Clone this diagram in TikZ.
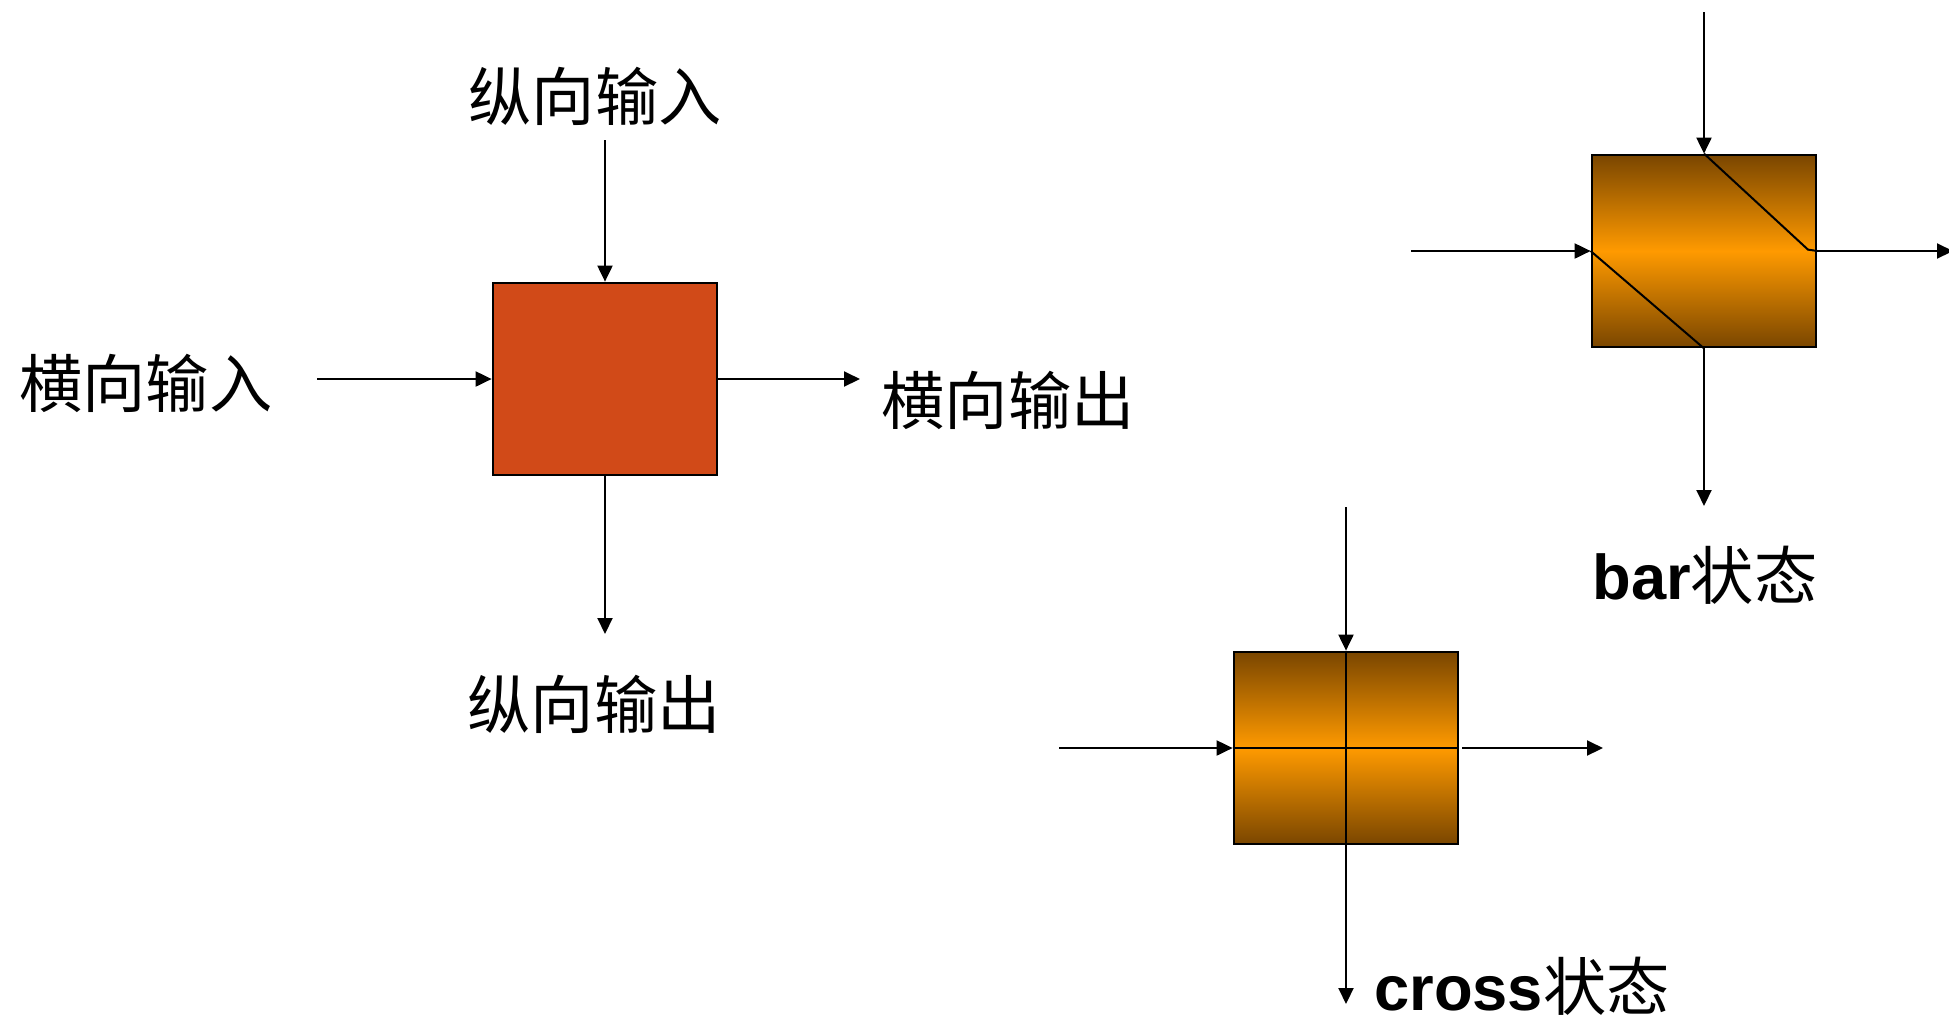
\documentclass[tikz,border=0pt]{standalone}
\usepackage{fontspec}
\setmainfont{Liberation Sans}
\newfontfamily\cjk{Noto Sans CJK SC}
\usetikzlibrary{arrows.meta}
\definecolor{SwitchRed}{HTML}{D14A18}
\definecolor{BarrelDark}{HTML}{7A4600}
\definecolor{BarrelOrange}{HTML}{FF9A00}

\begin{document}
\begin{tikzpicture}[x=0.2mm,y=-0.2mm,>={Triangle[length=3.2mm,width=3mm]},line width=0.4mm,
    unit/.style={draw=black,line width=0.55mm,minimum width=44.8mm,minimum height=38.4mm,inner sep=0pt},
    barrel/.style={unit,top color=BarrelDark,bottom color=BarrelDark,middle color=BarrelOrange},
    lbl/.style={font=\fontsize{36pt}{40pt}\selectfont,inner sep=0pt}]
  \useasboundingbox (0,0) rectangle (1949,1021);

  % generic switch unit
  \node[unit,fill=SwitchRed] (sw) at (605,379) {};
  \node[lbl] (vin)  at (595,96)  {\cjk 纵向输入};
  \node[lbl] (hin)  at (146,383) {\cjk 横向输入};
  \node[lbl] (hout) at (1008,400) {\cjk 横向输出};
  \node[lbl] (vout) at (594,704) {\cjk 纵向输出};
  \coordinate (swN) at (605,140);
  \coordinate (swW) at (317,379);
  \coordinate (swE) at (860,379);
  \coordinate (swS) at (605,634);
  \draw[->] (swN) -- (sw.north);
  \draw[->] (swW) -- (sw.west);
  \draw[->] (sw.east) -- (swE);
  \draw[->] (sw.south) -- (swS);

  % bar state
  \node[barrel] (bar) at (1704,251) {};
  \draw (bar.north) -- ++(104,96) -- (bar.east);
  \draw (bar.west) -- (bar.south);
  \coordinate (barN) at (1704,12);
  \coordinate (barW) at (1411,251);
  \coordinate (barE) at (1953,251);
  \coordinate (barS) at (1704,506);
  \draw[->] (barN) -- (bar.north);
  \draw[->] (barW) -- (bar.west);
  \draw[->] (bar.east) -- (barE);
  \draw[->] (bar.south) -- (barS);
  \node[lbl] (barlbl) at (1705,575) {\bfseries bar{\cjk\mdseries 状态}};

  % cross state
  \node[barrel] (cross) at (1346,748) {};
  \draw (cross.north) -- (cross.south);
  \draw (cross.west) -- (cross.east);
  \coordinate (crossN) at (1346,507);
  \coordinate (crossW) at (1059,748);
  \coordinate (crossE) at (1603,748);
  \coordinate (crossS) at (1346,1004);
  \draw[->] (crossN) -- (cross.north);
  \draw[->] (crossW) -- (cross.west);
  \draw[->] ([xshift=0.6mm]cross.east) -- (crossE);
  \draw[->] (cross.south) -- (crossS);
  \node[lbl] (crosslbl) at (1522,986) {\bfseries cross{\cjk\mdseries 状态}};
\end{tikzpicture}
\end{document}
